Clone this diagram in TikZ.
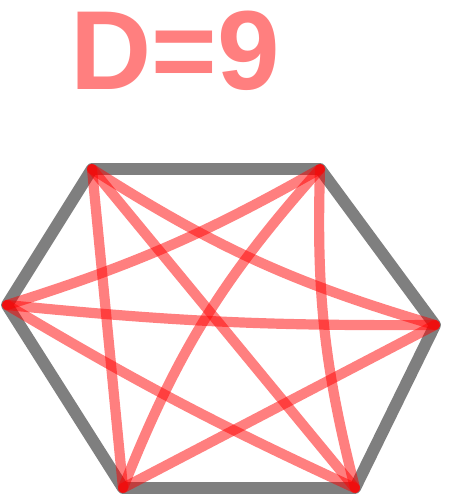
\documentclass[tikz,border=0pt]{standalone}
\usepackage{fontspec}
\setmainfont{Liberation Sans}
\begin{document}
\begin{tikzpicture}[x=0.02cm, y=-0.02cm,
    side/.style={line width=6.8pt, black, opacity=0.5, line join=round},
    diag/.style={line width=5.8pt, red, opacity=0.5, line cap=round}]
  \useasboundingbox (0,0) rectangle (462,504);
  \node[text=red, text opacity=0.5, inner sep=0pt,
    font=\fontsize{64}{66}\selectfont\bfseries] (count) at (175,51) {D=9};
  % hexagon corners
  \coordinate (tl) at (92,169);
  \coordinate (tr) at (320,169);
  \coordinate (r)  at (435,325);
  \coordinate (br) at (355,488);
  \coordinate (bl) at (123,488);
  \coordinate (l)  at (7,305);
  \draw[side] (tl) -- (tr) -- (r) -- (br) -- (bl) -- (l) -- cycle;
  % the nine diagonals, bent a little like the hand strokes
  \foreach \a/\b/\k in {tl/r/8, tl/br/0, tl/bl/0, tr/l/-6, tr/bl/10, tr/br/8,
      l/r/3, l/br/3, bl/r/0} {
    \draw[diag] (\a) to[bend right=\k] (\b);
  }
\end{tikzpicture}
\end{document}
